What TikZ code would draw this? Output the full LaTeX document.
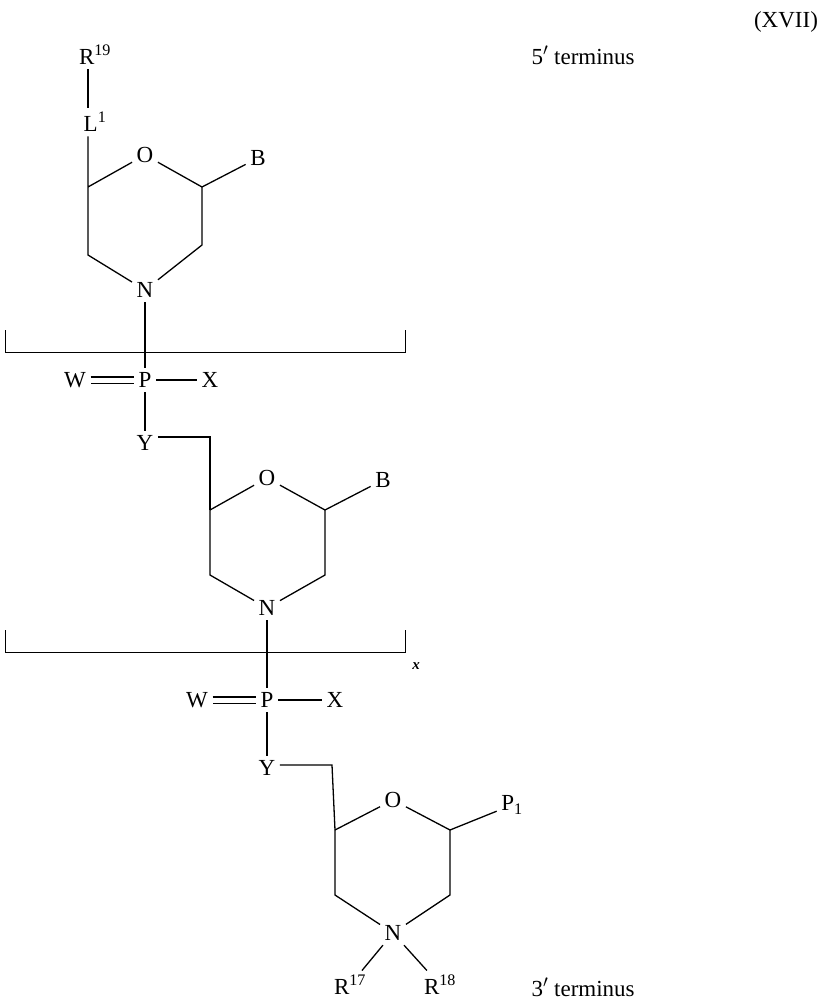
\documentclass[tikz,border=0pt]{standalone}
\usepackage{fontspec}
\setmainfont{Liberation Serif}
\begin{document}
\begin{tikzpicture}[x=1pt,y=-1pt,line width=1.3pt,
 lab/.style={font=\fontsize{23}{26}\selectfont,inner sep=4pt},
 bond/.style={line width=1.3pt}]
\useasboundingbox (0,0) rectangle (829,1002);
\node[lab,inner sep=1pt] (t) at (786,22) {(XVII)};
\node[lab,anchor=west,inner sep=1pt] (t5) at (530,55) {5$'$ terminus};
\node[lab,anchor=west,inner sep=1pt] (t3) at (530,987) {3$'$ terminus};
% ring 1
\node[lab] (R19) at (95,55) {R\textsuperscript{19}};
\node[lab] (L1) at (95,122) {L\textsuperscript{1}};
\coordinate (a1) at (88,187);
\node[lab] (O1) at (145,155) {O};
\coordinate (a2) at (202,187);
\coordinate (a3) at (202,245);
\node[lab] (N1) at (145,290) {N};
\coordinate (a4) at (88,255);
\node[lab] (B1) at (258,158) {B};
\draw[bond] (R19.south -| 88,0) -- (L1.north -| 88,0);
\draw[bond] (L1.south -| 88,0) -- (a1) -- (O1) -- (a2) -- (a3) -- (N1) -- (a4) -- (a1);
\draw[bond] (a2) -- (B1);
% brackets
\coordinate (k1a) at (5,330); \coordinate (k1b) at (5,352);
\coordinate (k1c) at (405,352); \coordinate (k1d) at (405,330);
\draw[line width=1pt] (k1a) -- (k1b) -- (k1c) -- (k1d);
\coordinate (k2a) at (5,630); \coordinate (k2b) at (5,652);
\coordinate (k2c) at (405,652); \coordinate (k2d) at (405,630);
\draw[line width=1pt] (k2a) -- (k2b) -- (k2c) -- (k2d);
\node[font=\bfseries\itshape\fontsize{15}{16}\selectfont] (xx) at (416,666) {x};
% P 1
\node[lab] (P1) at (145,380) {P};
\node[lab] (W1) at (75,380) {W};
\node[lab] (X1) at (210,380) {X};
\node[lab] (Y1) at (145,443) {Y};
\draw[bond] (N1) -- (P1);
\draw[bond,double,double distance=5pt] (W1) -- (P1);
\draw[bond] (P1) -- (X1);
\draw[bond] (P1) -- (Y1);
% ring 2
\coordinate (c1) at (210,437);
\coordinate (b1) at (210,510);
\node[lab] (O2) at (267,478) {O};
\coordinate (b2) at (325,510);
\coordinate (b3) at (325,575);
\node[lab] (N2) at (267,608) {N};
\coordinate (b4) at (210,575);
\node[lab] (B2) at (383,480) {B};
\draw[bond] (Y1.east |- c1) -- (c1) -- (b1);
\draw[bond] (b1) -- (O2) -- (b2) -- (b3) -- (N2) -- (b4) -- (b1);
\draw[bond] (b2) -- (B2);
% P 2
\node[lab] (P2) at (267,700) {P};
\node[lab] (W2) at (197,700) {W};
\node[lab] (X2) at (335,700) {X};
\node[lab] (Y2) at (267,768) {Y};
\draw[bond] (N2) -- (P2);
\draw[bond,double,double distance=5pt] (W2) -- (P2);
\draw[bond] (P2) -- (X2);
\draw[bond] (P2) -- (Y2);
% ring 3
\coordinate (c2) at (332,765);
\coordinate (d1) at (335,830);
\node[lab] (O3) at (393,800) {O};
\coordinate (d2) at (450,830);
\coordinate (d3) at (450,895);
\node[lab] (N3) at (393,933) {N};
\coordinate (d4) at (335,895);
\node[lab] (PP) at (512,805) {P\textsubscript{1}};
\draw[bond] (Y2.east |- c2) -- (c2) -- (d1);
\draw[bond] (d1) -- (O3) -- (d2) -- (d3) -- (N3) -- (d4) -- (d1);
\draw[bond] (d2) -- (PP);
\node[lab] (R17) at (350,985) {R\textsuperscript{17}};
\node[lab] (R18) at (440,985) {R\textsuperscript{18}};
\draw[bond] (N3) -- (R17);
\draw[bond] (N3) -- (R18);
\end{tikzpicture}
\end{document}
